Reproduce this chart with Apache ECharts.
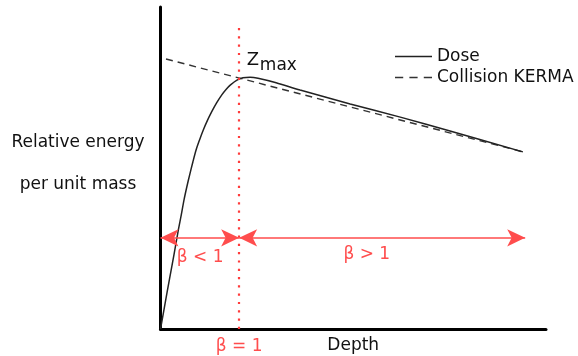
<!DOCTYPE html>
<html>
<head>
<meta charset="utf-8">
<script src="https://cdn.jsdelivr.net/npm/echarts@6/dist/echarts.min.js"></script>
<style>
  html, body { margin: 0; padding: 0; background: #fff; }
  #chart { width: 578px; height: 356px; }
</style>
</head>
<body>
<div id="chart"></div>
<script>
// Depth-dose curve and collision KERMA (arbitrary units)
const doseDepth = [0, 1.17, 2.33, 3.50, 4.62, 5.40, 6.10, 6.82, 7.55, 8.38, 9.23, 10.15, 11.10, 12.15, 13.26, 14.55, 15.90, 17.00, 18.16, 19.84, 21.40, 23.22, 25.29, 30.0, 36.2, 49.2, 62.2, 75.1, 94.0];
const doseValue = [0, 7.8, 15.5, 23.1, 30.7, 35.5, 40.1, 44.1, 47.8, 51.8, 55.6, 58.8, 61.8, 64.7, 67.4, 70.2, 72.7, 74.4, 75.8, 77.3, 78.0, 78.2, 77.9, 76.5, 74.2, 69.9, 65.8, 61.5, 55.0];
const kermaDepth = [1.43, 94.0];
const kermaValue = [83.85, 55.0];

// Depth of maximum dose, and the extent of the region arrows
const zmaxDepth = 20.4;
const arrowLevel = 28.3;
const arrowEnd = 94.6;
const dottedTop = 93.8;

const seriesNames = ['Dose', 'Collision KERMA'];

const FONT = 'DejaVu Sans';
const RED = '#ff4d4d';
const INK = '#111';

const zip = (xs, ys) => xs.map((x, i) => [x, ys[i]]);

const chart = echarts.init(document.getElementById('chart'), null, { renderer: 'canvas' });

const arrowStyle = { color: RED, width: 1.6, type: 'solid' };
const arrowSize = [13, 18];

// Legend samples: a solid stroke and a three-dash stroke
const solidIcon = 'path://M0,0h36v1.6h-36z';
const dashIcon = 'path://M0,0h8v1.6h-8zM14,0h8v1.6h-8zM28,0h8v1.6h-8z';

chart.setOption({
  animation: false,
  backgroundColor: '#fff',
  grid: { left: 160.5, right: 32, top: 7, bottom: 27, containLabel: false, outerBoundsMode: 'none' },
  xAxis: {
    type: 'value', min: 0, max: 100,
    axisLine: { show: true, onZero: false, lineStyle: { color: '#000', width: 3 } },
    axisTick: { show: false }, axisLabel: { show: false }, splitLine: { show: false },
    name: 'Depth', nameLocation: 'middle', nameGap: 8,
    nameTextStyle: { fontFamily: FONT, fontSize: 17, color: INK, verticalAlign: 'top' }
  },
  yAxis: {
    type: 'value', min: 0, max: 100,
    axisLine: { show: true, onZero: false, lineStyle: { color: '#000', width: 3 } },
    axisTick: { show: false }, axisLabel: { show: false }, splitLine: { show: false }
  },
  legend: {
    data: [
      { name: seriesNames[0], icon: solidIcon },
      { name: seriesNames[1], icon: dashIcon }
    ],
    orient: 'vertical',
    left: 395, top: 48,
    padding: 0,
    itemWidth: 37, itemHeight: 14, itemGap: 4,
    textStyle: { fontFamily: FONT, fontSize: 17, color: INK }
  },
  series: [
    {
      name: seriesNames[0],
      type: 'line',
      data: zip(doseDepth, doseValue),
      smooth: 0.3,
      showSymbol: false,
      symbol: 'none',
      lineStyle: { color: '#222', width: 1.5 },
      itemStyle: { color: '#222' },
      z: 3,
      markLine: {
        silent: true,
        animation: false,
        label: { show: false },
        data: [
          [
            { coord: [zmaxDepth, 0], symbol: 'none', lineStyle: { color: '#ff3b3b', width: 2.2, type: [2.2, 6.1] } },
            { coord: [zmaxDepth, dottedTop], symbol: 'none' }
          ],
          [
            { coord: [0, arrowLevel], symbol: 'arrow', symbolSize: arrowSize, lineStyle: arrowStyle },
            { coord: [zmaxDepth, arrowLevel], symbol: 'arrow', symbolSize: arrowSize }
          ],
          [
            { coord: [zmaxDepth, arrowLevel], symbol: 'arrow', symbolSize: arrowSize, lineStyle: arrowStyle },
            { coord: [arrowEnd, arrowLevel], symbol: 'arrow', symbolSize: arrowSize }
          ]
        ]
      }
    },
    {
      name: seriesNames[1],
      type: 'line',
      data: zip(kermaDepth, kermaValue),
      showSymbol: false,
      symbol: 'none',
      lineStyle: { color: '#333', width: 1.4, type: [7, 5] },
      itemStyle: { color: '#333' },
      z: 2
    }
  ]
});

// Annotation labels anchored to data positions
const px = (x, y) => chart.convertToPixel({ gridIndex: 0 }, [x, y]);
const redText = (pos, text) => ({
  type: 'text', x: pos[0], y: pos[1],
  style: { text, fontFamily: FONT, fontSize: 17, fill: RED, align: 'center', verticalAlign: 'middle' }
});

const zPos = px(zmaxDepth, 0);
const ltPos = px(10.3, 22.2);
const gtPos = px(53.5, 23.2);
const eqPos = [zPos[0], zPos[1] + 17.5];
const zLabel = px(zmaxDepth + 2.0, 83.5);

chart.setOption({
  graphic: [
    redText(ltPos, 'β < 1'),
    redText(gtPos, 'β > 1'),
    redText(eqPos, 'β = 1'),
    {
      type: 'text', x: zLabel[0], y: zLabel[1],
      style: { text: 'Z', fontFamily: FONT, fontSize: 18, fill: INK, align: 'left', verticalAlign: 'middle' }
    },
    {
      type: 'text', x: zLabel[0] + 13, y: zLabel[1] + 5,
      style: { text: 'max', fontFamily: FONT, fontSize: 17, fill: INK, align: 'left', verticalAlign: 'middle' }
    },
    {
      type: 'text', x: 78, y: 163.5,
      style: {
        text: 'Relative energy\nper unit mass',
        fontFamily: FONT, fontSize: 17, lineHeight: 42, fill: INK,
        align: 'center', verticalAlign: 'middle'
      }
    }
  ]
});
</script>
</body>
</html>
